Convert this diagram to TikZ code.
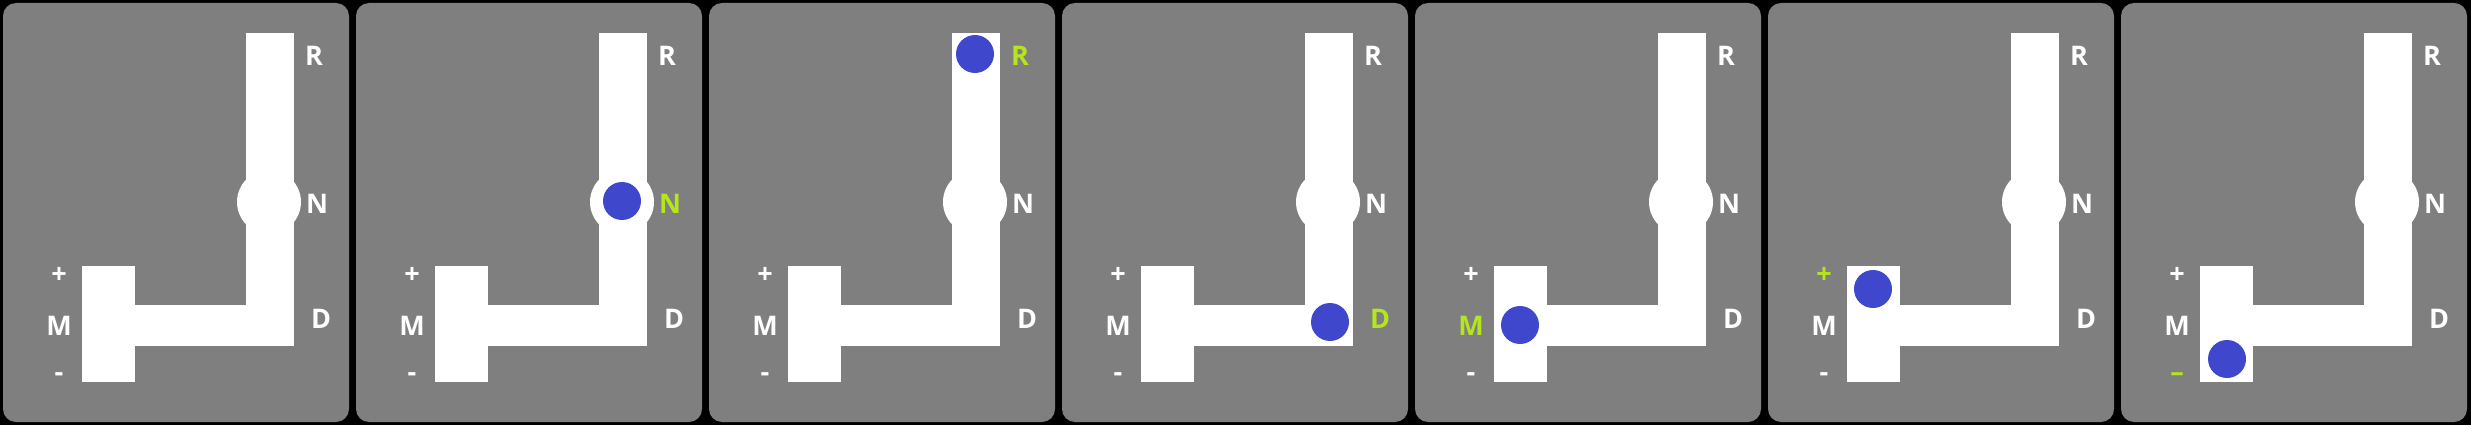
\documentclass[tikz,border=0pt]{standalone}
\usepackage{fontspec}
\setsansfont{Open Sans}
\definecolor{panelgray}{HTML}{7F7F7F}
\definecolor{selgreen}{HTML}{B5E61D}
\definecolor{knobblue}{HTML}{3F48CC}

\begin{document}
\begin{tikzpicture}[
    x=1pt, y=-1pt,
    panel/.style={
        fill=panelgray,
        rounded corners=13pt
    },
    track/.style={fill=white},
    knob/.style={
        circle,
        fill=knobblue,
        minimum size=38pt,
        inner sep=0pt
    },
    gear/.style={
        text=white,
        anchor=base,
        inner sep=0pt,
        font=\sffamily\bfseries\fontsize{27}{30}\selectfont
    },
    sel none/.style={}, sel R/.style={}, sel N/.style={}, sel D/.style={},
    sel M/.style={}, sel plus/.style={}, sel minus/.style={}
]
    \fill[black] (0,0) rectangle (2471,425);

    \foreach \k/\sel/\kx/\ky/\mlab in {0/none/0/0/-, 1/N/266/198/-,
        2/R/266/51/-, 3/D/268/319/-, 4/M/105/322/-, 5/plus/105/286/-,
        6/minus/106/356/\textendash}{
    \begin{scope}[shift={(353*\k+3,3)}, sel \sel/.style={text=selgreen}]
        \fill[panel] (0,0) rectangle (346,419);

        \fill[track] (243,30) rectangle (291,343);
        \fill[track] (132,302) rectangle (291,343);
        \fill[track] (79,263) rectangle (132,379);
        \fill[track] (266,199) circle (32);

        \node[gear, sel R] (R\k) at (311,63) {R};
        \node[gear, sel N] (N\k) at (314,210) {N};
        \node[gear, sel D] (D\k) at (318,325) {D};
        \node[gear, sel M] (M\k) at (56,332) {M};
        \node[gear, sel plus] (plus\k) at (56,280) {+};
        \node[gear, sel minus] (minus\k) at (56,378) {\mlab};

        \ifnum\k>0
            \node[knob] (knob\k) at (\kx,\ky) {};
        \fi
    \end{scope}
    }
\end{tikzpicture}
\end{document}
